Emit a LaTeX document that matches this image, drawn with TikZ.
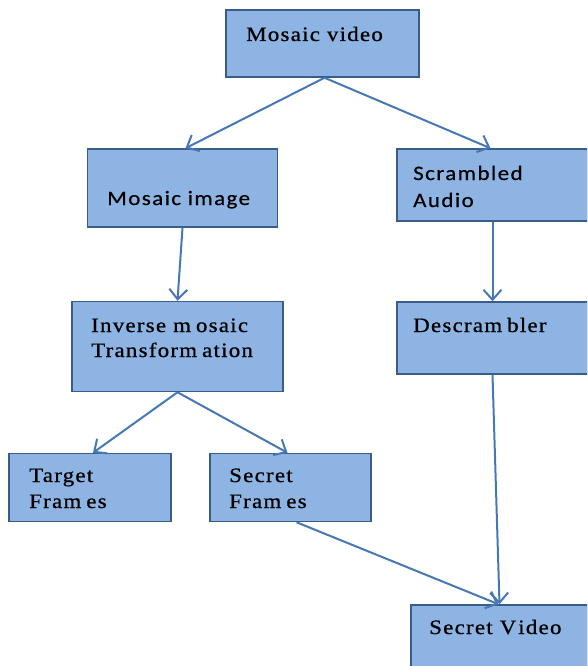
\documentclass[tikz,border=0pt]{standalone}
\usepackage{fontspec}
\setmainfont{Liberation Serif}
\newfontfamily\boxserif[FakeStretch=1.12, LetterSpace=6, FakeBold=0.7]{Liberation Serif}
\newfontfamily\boxsans[FakeStretch=1.12, LetterSpace=7, FakeBold=0.5]{Carlito}
\usetikzlibrary{arrows.meta}
\definecolor{boxfill}{RGB}{142,180,227}
\definecolor{boxline}{RGB}{56,93,138}
\definecolor{arrowline}{RGB}{70,120,182}
% a slightly wide "m", as the labels are set
\newcommand\wm{m\kern5pt}
\tikzset{
  flowbox/.style={draw=boxline, fill=boxfill, line width=1.5pt, rectangle, inner sep=0pt},
  flowarrow/.style={draw=arrowline, line width=2pt,
    -{Straight Barb[length=10pt,width=18pt,line width=2pt]}},
  seriftext/.style={anchor=base west, inner sep=0pt, font=\boxserif\fontsize{20.5}{24}\selectfont},
  sanstext/.style={anchor=base west, inner sep=0pt, font=\boxsans\fontsize{20.5}{24}\selectfont},
}
\begin{document}
\begin{tikzpicture}[x=1pt,y=-1pt]
  \useasboundingbox (0,0) rectangle (587,666);
  \fill[white] (0,0) rectangle (587,666);
  \clip (0,0) rectangle (587,666);

  % boxes
  \node[flowbox, minimum width=193pt, minimum height=67pt] (video)   at (322.5,43.5) {};
  \node[flowbox, minimum width=190pt, minimum height=78pt] (image)   at (182.5,188)  {};
  \node[flowbox, minimum width=191pt, minimum height=72pt] (audio)   at (492.5,185)  {};
  \node[flowbox, minimum width=211pt, minimum height=90pt] (inverse) at (177.5,346.5) {};
  \node[flowbox, minimum width=191pt, minimum height=72pt] (descr)   at (492.5,338)  {};
  \node[flowbox, minimum width=162pt, minimum height=68pt] (target)  at (90,487.5)   {};
  \node[flowbox, minimum width=161pt, minimum height=68pt] (secretf) at (290.5,487.5) {};
  \node[flowbox, minimum width=177pt, minimum height=80pt] (secretv) at (499.5,645)  {};

  % labels
  \node[seriftext] (tvideo)   at (246,41)  {Mosaic video};
  \node[sanstext]  (timage)   at (107,205) {Mosaic image};
  \node[sanstext]  (taudio1)  at (413,180) {Scrambled};
  \node[sanstext]  (taudio2)  at (413,207) {Audio};
  \node[seriftext] (tinv1)    at (91,332)  {Inverse \wm osaic};
  \node[seriftext] (tinv2)    at (91,357)  {Transfor\wm ation};
  \node[seriftext] (tdescr)   at (413,332) {Descra\wm bler};
  \node[seriftext] (ttarget1) at (29,482)  {Target};
  \node[seriftext] (ttarget2) at (29,508)  {Fra\wm es};
  \node[seriftext] (tsecf1)   at (229,482) {Secret};
  \node[seriftext] (tsecf2)   at (229,508) {Fra\wm es};
  \node[seriftext] (tsecv)    at (429,634) {Secret V\kern2pt ideo};

  % connectors
  \draw[flowarrow] ([xshift=2pt]video.south) -- ([xshift=3pt]image.north);
  \draw[flowarrow] ([xshift=2pt]video.south) -- ([xshift=-2pt]audio.north);
  \draw[flowarrow] (image.south) -- (inverse.north);
  \draw[flowarrow] (audio.south) -- (descr.north);
  \draw[flowarrow] (inverse.south) -- ([xshift=3pt]target.north);
  \draw[flowarrow] (inverse.south) -- ([xshift=-3pt]secretf.north);
  \draw[flowarrow] ([xshift=6pt]secretf.south) -- ([xshift=-1pt]secretv.north);
  \draw[flowarrow] (descr.south) -- (secretv.north);
\end{tikzpicture}
\end{document}
